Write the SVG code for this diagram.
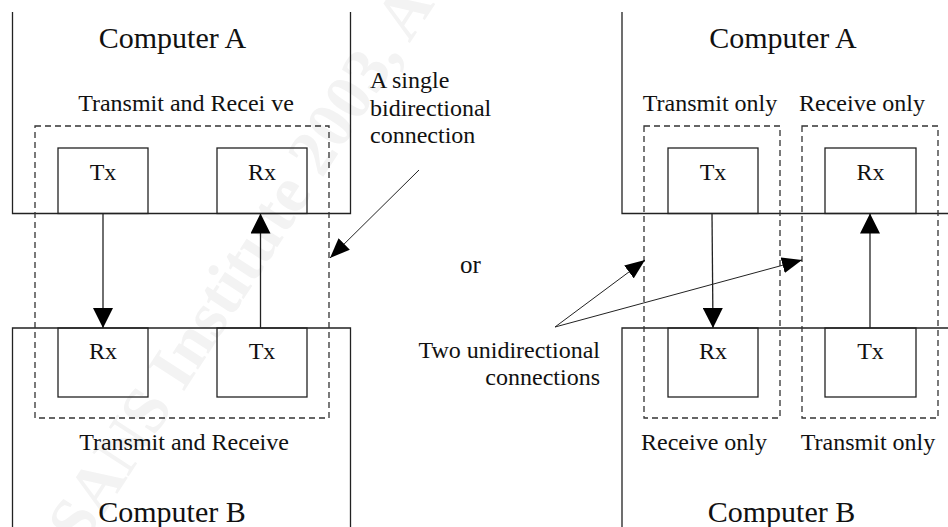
<svg xmlns="http://www.w3.org/2000/svg" width="948" height="527" viewBox="0 0 948 527">
<style>
text{font-family:"Liberation Serif","Times New Roman",serif;fill:#111}
.big{font-size:30px}
.lbl{font-size:24px}
.c{text-anchor:middle}
.e{text-anchor:end}
.box{fill:none;stroke:#222;stroke-width:1.3}
.dash{fill:none;stroke:#333;stroke-width:1.3;stroke-dasharray:6 4}
.wire{fill:none;stroke:#222;stroke-width:1.3}
.lead{fill:none;stroke:#222;stroke-width:1}
.wm{font-size:66px;font-weight:bold;fill:#f3f3f3}
</style>
<defs>
<marker id="ah" markerUnits="userSpaceOnUse" markerWidth="20" markerHeight="20" viewBox="0 0 20 20" refX="20" refY="10" orient="auto">
<path d="M0,0 L20,10 L0,20 Z" fill="#000"/>
</marker>
<marker id="ahs" markerUnits="userSpaceOnUse" markerWidth="20" markerHeight="16" viewBox="0 0 20 16" refX="20" refY="8" orient="auto">
<path d="M0,0 L20,8 L0,16 Z" fill="#000"/>
</marker>
</defs>
<rect width="948" height="527" fill="#fff"/>
<text class="wm" transform="translate(82,548) rotate(-57)">SANS Institute 2003, Au</text>

<g id="left-computer-a">
<path class="box" d="M12.5,12 V213.5 H350.5 V12"/>
<text class="big c" x="172.5" y="48">Computer A</text>
<text class="lbl c" x="186" y="111">Transmit and Recei ve</text>
</g>
<g id="left-computer-b">
<path class="box" d="M12.5,527 V328 H350.5 V527"/>
<text class="lbl c" x="184" y="450">Transmit and Receive</text>
<text class="big c" x="172" y="522">Computer B</text>
</g>
<g id="left-connection">
<rect class="dash" x="35" y="126" width="294" height="292"/>
</g>
<g id="left-a-tx"><rect class="box" x="58" y="148" width="90" height="65.5"/><text class="lbl c" x="103" y="180">Tx</text></g>
<g id="left-a-rx"><rect class="box" x="217" y="148" width="90" height="65.5"/><text class="lbl c" x="262" y="180">Rx</text></g>
<g id="left-b-rx"><rect class="box" x="58" y="328" width="90" height="69"/><text class="lbl c" x="103" y="359">Rx</text></g>
<g id="left-b-tx"><rect class="box" x="217" y="328" width="90" height="69"/><text class="lbl c" x="262" y="359">Tx</text></g>

<g id="right-computer-a">
<path class="box" d="M622,12 V213.5 H948"/>
<text class="big c" x="783" y="48">Computer A</text>
<text class="lbl c" x="710" y="111">Transmit only</text>
<text class="lbl c" x="862" y="111">Receive only</text>
</g>
<g id="right-computer-b">
<path class="box" d="M622,527 V328 H948"/>
<text class="lbl c" x="704" y="450">Receive only</text>
<text class="lbl c" x="868" y="450">Transmit only</text>
<text class="big c" x="781.5" y="522">Computer B</text>
</g>
<g id="right-connection-1"><rect class="dash" x="644" y="126" width="136" height="292"/></g>
<g id="right-connection-2"><rect class="dash" x="802" y="126" width="136" height="292"/></g>
<g id="right-a-tx"><rect class="box" x="668" y="148" width="90" height="65.5"/><text class="lbl c" x="713" y="180">Tx</text></g>
<g id="right-a-rx"><rect class="box" x="825" y="148" width="91" height="65.5"/><text class="lbl c" x="870.5" y="180">Rx</text></g>
<g id="right-b-rx"><rect class="box" x="668" y="328" width="90" height="69"/><text class="lbl c" x="713" y="359">Rx</text></g>
<g id="right-b-tx"><rect class="box" x="825" y="328" width="91" height="69"/><text class="lbl c" x="870.5" y="359">Tx</text></g>

<g id="notes">
<text class="lbl" x="370" y="88">A single</text>
<text class="lbl" x="370" y="116">bidirectional</text>
<text class="lbl" x="370" y="143">connection</text>
<text class="lbl" x="460" y="273" style="font-size:25px">or</text>
<text class="lbl e" x="600" y="358">Two unidirectional</text>
<text class="lbl e" x="600" y="385">connections</text>
</g>

<g id="connectors">
<line class="wire" x1="103" y1="213.5" x2="103" y2="328" marker-end="url(#ah)"/>
<line class="wire" x1="260.5" y1="328" x2="260.5" y2="213.5" marker-end="url(#ah)"/>
<line class="wire" x1="712" y1="213.5" x2="713" y2="328" marker-end="url(#ah)"/>
<line class="wire" x1="870" y1="328" x2="870" y2="213.5" marker-end="url(#ah)"/>
<line class="lead" x1="419" y1="170" x2="330" y2="258" marker-end="url(#ahs)"/>
<line class="lead" x1="555" y1="327" x2="645" y2="260" marker-end="url(#ahs)"/>
<line class="lead" x1="555" y1="327" x2="802" y2="260" marker-end="url(#ahs)"/>
</g>
</svg>
